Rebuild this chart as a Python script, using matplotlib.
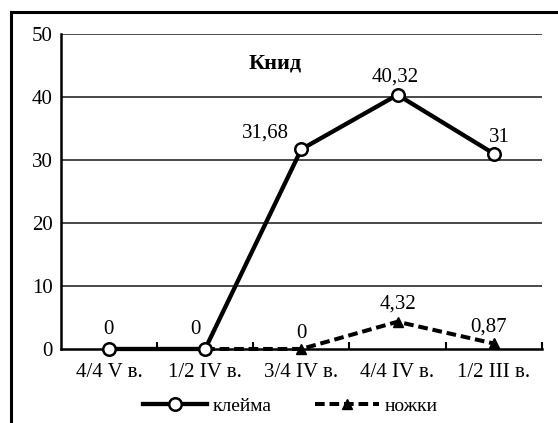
import matplotlib
matplotlib.use("Agg")
import matplotlib.pyplot as plt
from matplotlib.lines import Line2D

plt.rcParams['font.family'] = ['Liberation Serif', 'DejaVu Serif']

periods = ['4/4 V в.', '1/2 IV в.', '3/4 IV в.', '4/4 IV в.', '1/2 III в.']
klejma = [0, 0, 31.68, 40.32, 31]
nozhki_idx = [1, 2, 3, 4]
nozhki = [0, 0, 4.32, 0.87]
klejma_labels = ['0', '0', '31,68', '40,32', '31']
nozhki_labels = {2: '0', 3: '4,32', 4: '0,87'}

fs = 15

fig = plt.figure(figsize=(5.58, 4.23), dpi=100)
ax = fig.add_axes([0.109, 0.175, 0.862, 0.745])

# outer frame (only left and top visible in the original)
fig.add_artist(Line2D([11 / 558, 11 / 558], [0, 1 - 12 / 423], color='black', lw=2.2))
fig.add_artist(Line2D([11 / 558, 1], [1 - 12 / 423, 1 - 12 / 423], color='black', lw=2.2))

x = list(range(len(periods)))
ax.set_xlim(-0.5, len(periods) - 0.5)
ax.set_ylim(0, 50)
ax.set_yticks([0, 10, 20, 30, 40, 50])
for y in [10, 20, 30, 40, 50]:
    ax.axhline(y, color='#3a3a3a', lw=1.3, zorder=1)

ax.plot(nozhki_idx, nozhki, color='black', lw=2.9, ls=(0, (2.4, 1.2)),
        marker='^', ms=7, mfc='black', mec='black', zorder=3, clip_on=False,
        label='ножки')
ax.plot(x, klejma, color='black', lw=3.1, marker='o', ms=9,
        mfc='white', mec='black', mew=1.8, zorder=4, clip_on=False,
        label='клейма')

# value labels
offs = {0: (0, 7), 1: (-7, 7), 2: (-26, 5), 3: (-2, 6), 4: (4, 5)}
for i, (v, t) in enumerate(zip(klejma, klejma_labels)):
    ax.annotate(t, (i, v), xytext=offs[i], textcoords='offset points',
                ha='center', va='bottom', fontsize=fs)
noffs = {2: (0, 4), 3: (0, 6), 4: (-4, 5)}
for i, v in zip(nozhki_idx, nozhki):
    if i in nozhki_labels:
        ax.annotate(nozhki_labels[i], (i, v), xytext=noffs[i], textcoords='offset points',
                    ha='center', va='bottom', fontsize=fs)

ax.text(2.0, 45.3, 'Книд', ha='right', va='center', fontsize=16, fontweight='bold')

for s in ['top', 'right']:
    ax.spines[s].set_visible(False)
ax.spines['left'].set_linewidth(1.8)
ax.spines['bottom'].set_linewidth(1.8)

ax.set_xticks([i + 0.5 for i in range(len(periods))])
ax.set_xticks(x, minor=True)
ax.set_xticklabels([])
ax.set_xticklabels(periods, minor=True)
ax.tick_params(axis='x', which='major', direction='in', length=5, width=1.5)
ax.tick_params(axis='x', which='minor', length=0, labelsize=fs, pad=10)
ax.tick_params(axis='y', length=0, labelsize=fs, pad=6)

h, l = ax.get_legend_handles_labels()
fig.legend(h[::-1], l[::-1], loc='center', bbox_to_anchor=(0.52, 0.04), ncol=2,
           frameon=False, fontsize=14, handlelength=3.3, handletextpad=0.3,
           columnspacing=2.2, borderpad=0)

fig.savefig('out.png', dpi=100)
